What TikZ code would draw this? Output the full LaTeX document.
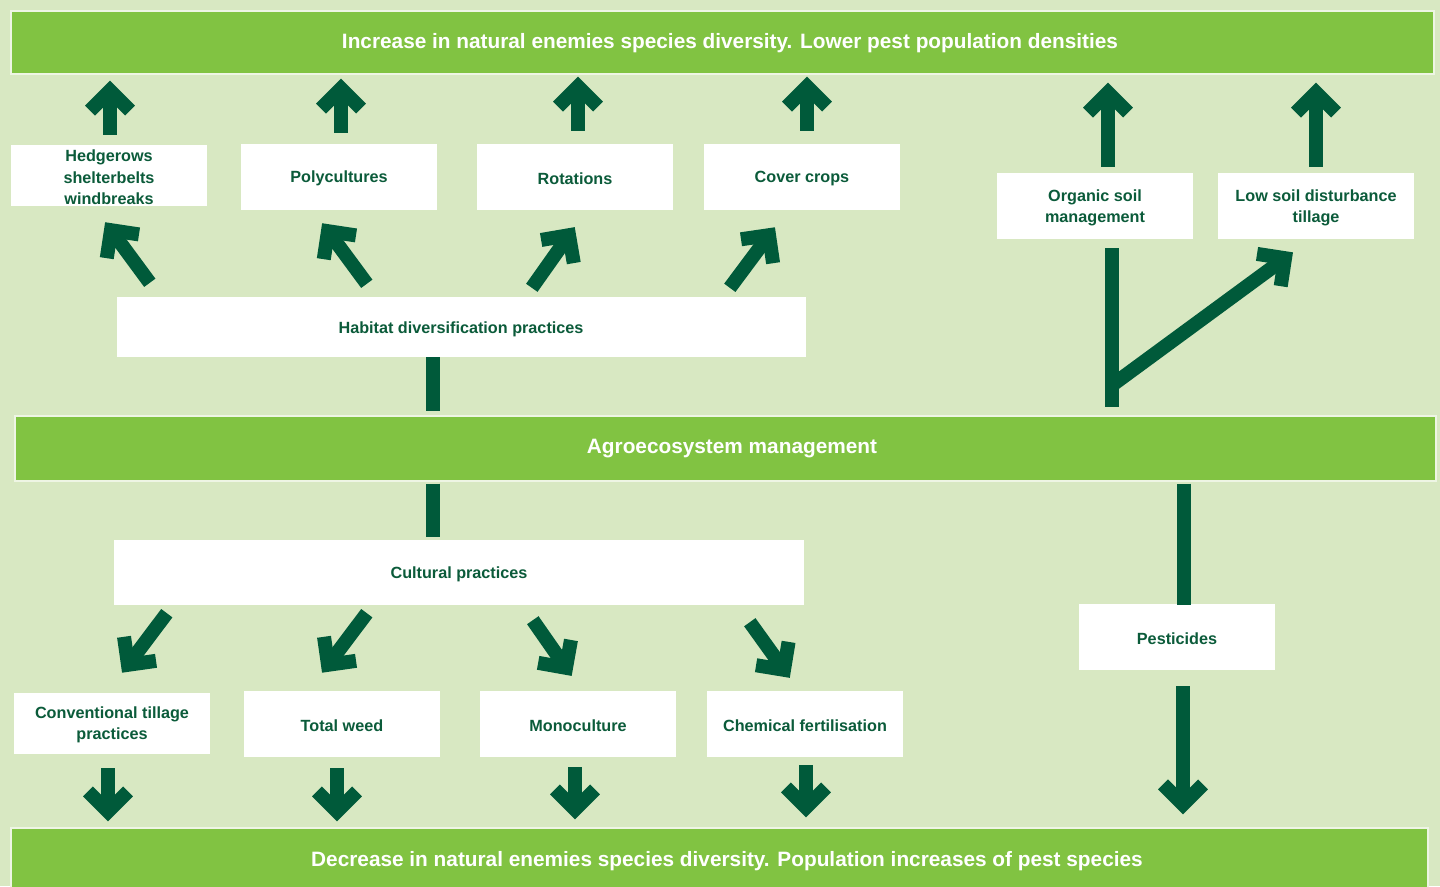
\documentclass[tikz,border=0pt]{standalone}
\usepackage{fontspec}
\setmainfont{Liberation Sans}
\usetikzlibrary{calc}
\definecolor{bgc}{HTML}{D8E8C2}
\definecolor{barc}{HTML}{81C342}
\definecolor{dkg}{HTML}{005A3A}
\definecolor{txtg}{HTML}{0B5B3A}
\definecolor{rimc}{HTML}{EEF5E4}
\tikzset{
  bar/.style={fill=barc, draw=rimc, line width=1.2pt, inner sep=0pt},
  bartext/.style={text=white, font=\fontsize{20.8}{25}\selectfont\bfseries, inner sep=0pt, yshift=-2pt},
  wbox/.style={fill=white, draw=none, text=txtg, font=\fontsize{16.2}{21.3}\selectfont\bfseries, align=center, inner sep=0pt, minimum width=196pt, minimum height=66pt, text depth=0pt, text height=0pt},
  wtext/.style={text=txtg, font=\fontsize{16.2}{21.3}\selectfont\bfseries, inner sep=0pt, yshift=-1.5pt},
  fat/.style={draw=dkg, line width=14pt, line cap=butt, line join=miter, miter limit=10},
}
\newcommand\fatarrow[2]{%
  \draw[fat] (#1) -- (#2);
  \draw[fat] ($(#2)!28.3pt!45:(#1)$) -- (#2) -- ($(#2)!28.3pt!-45:(#1)$);
}
\begin{document}
\begin{tikzpicture}[x=1pt,y=-1pt]
\useasboundingbox (0,0) rectangle (1440,886);
\clip (0,0) rectangle (1440,886);
\fill[bgc] (0,0) rectangle (1440,886);

% bars
\node[bar, minimum width=1423pt, minimum height=63pt] (top) at (722.5,42.5) {};
\node[bartext] (toptext) at (730,41) {Increase in natural enemies species diversity. Lower pest population densities};
\node[bar, minimum width=1421pt, minimum height=65pt] (mid) at (725.5,448.5) {};
\node[bartext] (midtext) at (732,447) {Agroecosystem management};
\node[bar, minimum width=1417pt, minimum height=70pt] (bot) at (719.5,863) {};
\node[bartext] (bottext) at (727,859) {Decrease in natural enemies species diversity. Population increases of pest species};

% white boxes
\node[wbox, minimum height=61pt] (hedge) at (109,175.5) {};
\node[wtext, align=center] (hedgetext) at (109,176) {Hedgerows\\shelterbelts\\windbreaks};
\node[wbox] (poly) at (339,177) {};
\node[wtext] (polytext) at (339,177) {Polycultures};
\node[wbox] (rot) at (575,177) {};
\node[wtext] (rottext) at (575,177) {Rotations};
\node[wbox] (cover) at (802,177) {};
\node[wtext] (covertext) at (802,177) {Cover crops};
\node[wbox] (organic) at (1095,206) {};
\node[wtext, align=center] (organictext) at (1095,206) {Organic soil\\management};
\node[wbox] (lowsoil) at (1316,206) {};
\node[wtext, align=center] (lowsoiltext) at (1316,206) {Low soil disturbance\\tillage};
\node[wbox, minimum width=689pt, minimum height=60pt] (habitat) at (461.5,327) {};
\node[wtext] (habtext) at (461,328) {Habitat diversification practices};
\node[wbox, minimum width=690pt, minimum height=65pt] (cultural) at (459,572.5) {};
\node[wtext] (culttext) at (459,573) {Cultural practices};
\node[wbox] (pest) at (1177,637) {};
\node[wtext] (pesttext) at (1177,637) {Pesticides};
\node[wbox, minimum height=61pt] (conv) at (112,723.5) {};
\node[wtext, align=center] (convtext) at (112,723.5) {Conventional tillage\\practices};
\node[wbox] (weed) at (342,724) {};
\node[wtext] (weedtext) at (342,724) {Total weed};
\node[wbox] (mono) at (578,724) {};
\node[wtext] (monotext) at (578,724) {Monoculture};
\node[wbox] (chem) at (805,724) {};
\node[wtext] (chemtext) at (805,724) {Chemical fertilisation};

% up arrows to top bar
\fatarrow{$(hedge.north)+(1,-10)$}{$(top.south -| hedge.north)+(1,16)$}
\fatarrow{$(poly.north)+(2,-11)$}{$(top.south -| poly.north)+(2,14)$}
\fatarrow{$(rot.north)+(3,-13)$}{$(top.south -| rot.north)+(3,12)$}
\fatarrow{$(cover.north)+(5,-13)$}{$(top.south -| cover.north)+(5,12)$}
\fatarrow{$(organic.north)+(13,-6)$}{$(top.south -| organic.north)+(13,18)$}
\fatarrow{$(lowsoil.north)+(0,-6)$}{$(top.south -| lowsoil.north)+(0,18)$}

% diagonal arrows from habitat
\fatarrow{$(habitat.north west)+(33,-14)$}{$(hedge.south)+(2,24)$}
\fatarrow{$(habitat.north west)+(250,-13)$}{$(poly.south)+(-11,21)$}
\fatarrow{$(habitat.north west)+(415,-9)$}{$(rot.south)+(-6,25)$}
\fatarrow{$(habitat.north west)+(613,-9)$}{$(cover.south)+(-33,25)$}

% Y connector
\coordinate (yj) at ($(organic.south)+(17,146)$);
\draw[fat] ($(organic.south)+(17,9)$) -- ($(mid.north -| yj)+(0,-8)$);
\fatarrow{yj}{$(lowsoil.south)+(-31,19)$}

% habitat - mid - cultural
\draw[fat, line width=13.5pt] ($(habitat.south)+(-28.5,0)$) -- ($(mid.north -| habitat.south)+(-28.5,-4)$);
\draw[fat, line width=13.5pt] ($(mid.south -| cultural.north)+(-26,2)$) -- ($(cultural.north)+(-26,-3)$);

% pesticides
\draw[fat] ($(mid.south -| pest.north)+(7,2)$) -- ($(pest.north)+(7,1)$);
\fatarrow{$(pest.south)+(6,16)$}{$(bot.north -| pest.south)+(6,-23)$}

% diagonal arrows from cultural
\fatarrow{$(cultural.south west)+(53,8)$}{$(conv.north)+(16,-28)$}
\fatarrow{$(cultural.south west)+(253,8)$}{$(weed.north)+(-14,-26)$}
\fatarrow{$(cultural.south west)+(419,15)$}{$(mono.north)+(-12,-23)$}
\fatarrow{$(cultural.south west)+(636,17)$}{$(chem.north)+(-21,-21)$}

% down arrows to bottom bar
\fatarrow{$(conv.south)+(-4,14)$}{$(bot.north -| conv.south)+(-4,-16)$}
\fatarrow{$(weed.south)+(-5,11)$}{$(bot.north -| weed.south)+(-5,-16)$}
\fatarrow{$(mono.south)+(-3,10)$}{$(bot.north -| mono.south)+(-3,-18)$}
\fatarrow{$(chem.south)+(1,8)$}{$(bot.north -| chem.south)+(1,-20)$}
\end{tikzpicture}
\end{document}
